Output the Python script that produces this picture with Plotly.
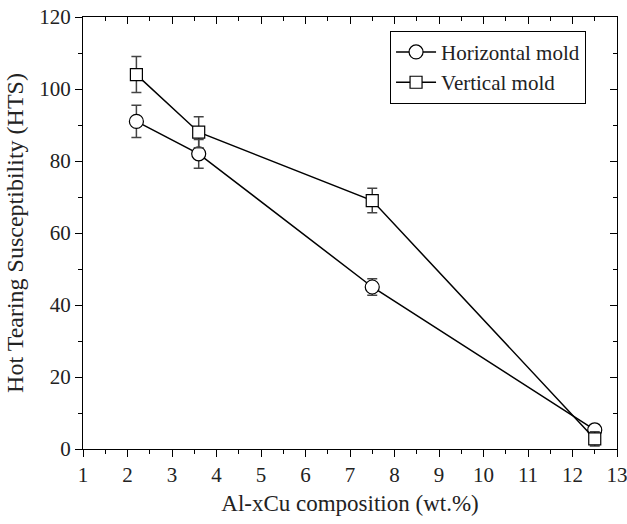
import plotly.graph_objects as go

x_vals = [2.2, 3.6, 7.5, 12.5]
horiz_y = [91, 82, 45, 5.3]
horiz_err = [4.5, 4.0, 2.3, 1.5]
vert_y = [104, 88, 69, 2.8]
vert_err = [5.0, 4.3, 3.4, 2.0]
x_ticks = list(range(1, 14))

FONT = "Liberation Serif, Times New Roman, serif"
fig = go.Figure()

fig.add_trace(go.Scatter(
    x=x_vals, y=horiz_y, name="Horizontal mold", mode="lines+markers",
    line=dict(color="black", width=1.5),
    marker=dict(symbol="circle", size=14, color="white", line=dict(color="black", width=1.2)),
    error_y=dict(type="data", array=horiz_err, color="#444444", thickness=1.5, width=5),
))
fig.add_trace(go.Scatter(
    x=x_vals, y=vert_y, name="Vertical mold", mode="lines+markers",
    line=dict(color="black", width=1.5),
    marker=dict(symbol="square", size=12, color="white", line=dict(color="black", width=1.2)),
    error_y=dict(type="data", array=vert_err, color="#444444", thickness=1.5, width=5),
))
fig.add_trace(go.Scatter(x=[1], y=[0], xaxis="x2", yaxis="y2", mode="markers",
                         marker=dict(opacity=0), showlegend=False, hoverinfo="skip"))

axis_common = dict(showgrid=False, zeroline=False, showline=True, linecolor="black", linewidth=1.3,
                   tickcolor="black", ticklen=7, tickwidth=1.3, automargin=False)

XR = [1, 13.0001]
fig.update_layout(
    width=627, height=524,
    margin=dict(l=83, r=10, t=17, b=75),
    paper_bgcolor="white", plot_bgcolor="white",
    font=dict(family=FONT, color="#222"),
    xaxis=dict(range=XR, tickvals=x_ticks, ticks="outside", ticklabeloverflow="allow",
               minor=dict(dtick=0.5, tick0=1, ticks="outside", ticklen=4, tickcolor="black", tickwidth=1.3),
               tickfont=dict(family=FONT, size=21, color="#222"),
               title=dict(text="Al-xCu composition (wt.%)", font=dict(family=FONT, size=23), standoff=8),
               **axis_common),
    yaxis=dict(range=[0, 120], dtick=20, ticks="outside",
               minor=dict(dtick=10, ticks="outside", ticklen=4, tickcolor="black", tickwidth=1.3),
               tickfont=dict(family=FONT, size=21, color="#222"),
               title=dict(text="Hot Tearing Susceptibility (HTS)", font=dict(family=FONT, size=24), standoff=8),
               **axis_common),
    xaxis2=dict(range=XR, dtick=1, tick0=1, ticks="inside", side="top", overlaying="x",
                showticklabels=False,
                minor=dict(dtick=0.5, tick0=1, ticks="inside", ticklen=4, tickcolor="black", tickwidth=1.3),
                **axis_common),
    yaxis2=dict(range=[0, 120], dtick=20, ticks="inside", side="right", overlaying="y", anchor="x2",
                showticklabels=False,
                minor=dict(dtick=10, ticks="inside", ticklen=4, tickcolor="black", tickwidth=1.3),
                **axis_common),
    legend=dict(x=0.575, y=0.968, xanchor="left", yanchor="top",
                bordercolor="black", borderwidth=1, bgcolor="white",
                font=dict(family=FONT, size=21, color="#222"), tracegroupgap=0,
                itemwidth=40),
    showlegend=True,
)

fig.write_html("out.html")
